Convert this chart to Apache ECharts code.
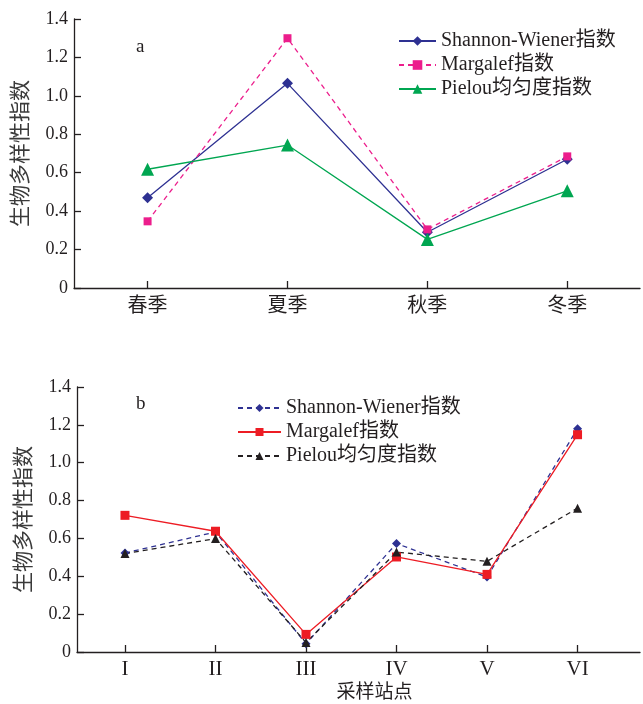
<!DOCTYPE html>
<html>
<head>
<meta charset="utf-8">
<script src="https://cdn.jsdelivr.net/npm/echarts@6/dist/echarts.min.js"></script>
<style>
  html, body { margin: 0; padding: 0; background: #fff; }
  #main { width: 643px; height: 704px; }
</style>
</head>
<body>
<div id="main"></div>
<script>
// 图 a：季节
var seasons = ['春季', '夏季', '秋季', '冬季']
var seasonShannon = [0.47, 1.065, 0.29, 0.67]
var seasonMargalef = [0.347, 1.30, 0.305, 0.685]
var seasonPielou = [0.618, 0.744, 0.253, 0.506]

// 图 b：采样站点
var stations = ['I', 'II', 'III', 'IV', 'V', 'VI']
var siteShannon = [0.523, 0.634, 0.044, 0.573, 0.396, 1.18]
var siteMargalef = [0.722, 0.638, 0.093, 0.502, 0.41, 1.148]
var sitePielou = [0.52, 0.599, 0.05, 0.528, 0.479, 0.76]

var yTicks = [0, 0.2, 0.4, 0.6, 0.8, 1.0, 1.2, 1.4]

var nameA = ['Shannon-Wiener指数', 'Margalef指数', 'Pielou均匀度指数']
var nameB = ['Shannon-Wiener指数', 'Margalef指数', 'Pielou均匀度指数']

var serif = 'Liberation Serif, "Noto Sans CJK SC"'
var ink = '#231f20'

function pairs(arr) {
  return arr.map(function (v, i) { return [i, v] })
}
function idx(arr) {
  return arr.map(function (v, i) { return i })
}

function xAxisFor(grid, cats, min, max) {
  return {
    type: 'value', gridIndex: grid, min: min, max: max,
    splitLine: { show: false },
    axisLine: { show: true, onZero: false, lineStyle: { color: ink, width: 1.3 } },
    axisTick: { show: true, inside: true, length: 7, customValues: idx(cats), lineStyle: { color: ink, width: 1.3 } },
    axisLabel: {
      customValues: idx(cats), margin: grid === 0 ? 6 : 7,
      fontFamily: grid === 0 ? '"Noto Sans CJK SC"' : serif,
      fontSize: grid === 0 ? 20 : 21, color: ink,
      formatter: function (v) { return cats[Math.round(v)] }
    }
  }
}

function yAxisFor(grid) {
  return {
    type: 'value', gridIndex: grid, min: 0, max: 1.4, interval: 0.2,
    name: '生物多样性指数', nameLocation: 'middle', nameGap: 44, nameRotate: 90,
    nameTextStyle: { fontFamily: '"Noto Sans CJK SC"', fontSize: 21, color: '#3a3a3a' },
    splitLine: { show: false },
    axisLine: { show: true, onZero: false, lineStyle: { color: ink, width: 1.3 } },
    axisTick: { show: true, inside: true, length: 7, lineStyle: { color: ink, width: 1.3 } },
    axisLabel: {
      margin: 6, fontFamily: serif, fontSize: 18, color: ink,
      formatter: function (v) {
        var t = yTicks.indexOf(Math.round(v * 10) / 10)
        return t === 0 ? '0' : v.toFixed(1)
      }
    }
  }
}

const myCharts = echarts.init(document.getElementById('main'))
const option = {
  animation: false,
  backgroundColor: '#fff',
  title: [
    { text: 'a', left: 131, top: 33, textStyle: { fontFamily: serif, fontSize: 19, fontWeight: 'normal', color: ink } },
    { text: 'b', left: 131, top: 390, textStyle: { fontFamily: serif, fontSize: 19, fontWeight: 'normal', color: ink } }
  ],
  grid: [
    { left: 74, top: 19, height: 269, right: 3, outerBoundsMode: 'none' },
    { left: 77, top: 387, height: 265, right: 3, outerBoundsMode: 'none' }
  ],
  legend: [
    {
      data: nameA.map(function (n) { return { name: n } }),
      orient: 'vertical', left: 393, top: 26, itemWidth: 37, itemHeight: 12, itemGap: 4,
      textStyle: { fontFamily: serif, fontSize: 20, color: ink }
    },
    {
      data: nameB.map(function (n) { return { name: n + ' ' } }),
      orient: 'vertical', left: 232, top: 393, itemWidth: 43, itemHeight: 10, itemGap: 4,
      textStyle: { fontFamily: serif, fontSize: 20, color: ink }
    }
  ],
  xAxis: [
    xAxisFor(0, seasons, -0.526, 3.52),
    Object.assign(xAxisFor(1, stations, -0.53, 5.69), {
      name: '采样站点', nameLocation: 'middle', nameGap: 29,
      nameTextStyle: { fontFamily: '"Noto Sans CJK SC"', fontSize: 19, color: ink, padding: [0, 0, 0, 32] }
    })
  ],
  yAxis: [yAxisFor(0), yAxisFor(1)],
  series: [
    {
      name: nameA[0], type: 'line', xAxisIndex: 0, yAxisIndex: 0, data: pairs(seasonShannon),
      symbol: 'diamond', symbolSize: 11,
      lineStyle: { color: '#2e3192', width: 1.3 }, itemStyle: { color: '#2e3192' }
    },
    {
      name: nameA[1], type: 'line', xAxisIndex: 0, yAxisIndex: 0, data: pairs(seasonMargalef),
      symbol: 'rect', symbolSize: 8,
      lineStyle: { color: '#ec1e8c', width: 1.3, type: [5, 4] }, itemStyle: { color: '#ec1e8c' }
    },
    {
      name: nameA[2], type: 'line', xAxisIndex: 0, yAxisIndex: 0, data: pairs(seasonPielou),
      symbol: 'triangle', symbolSize: 13,
      lineStyle: { color: '#00a651', width: 1.3 }, itemStyle: { color: '#00a651' }
    },
    {
      name: nameB[0] + ' ', type: 'line', xAxisIndex: 1, yAxisIndex: 1, data: pairs(siteShannon),
      symbol: 'diamond', symbolSize: 9,
      lineStyle: { color: '#2e3192', width: 1.3, type: [5, 4] }, itemStyle: { color: '#2e3192' }
    },
    {
      name: nameB[1] + ' ', type: 'line', xAxisIndex: 1, yAxisIndex: 1, data: pairs(siteMargalef),
      symbol: 'rect', symbolSize: 9,
      lineStyle: { color: '#ed1c24', width: 1.3 }, itemStyle: { color: '#ed1c24' }
    },
    {
      name: nameB[2] + ' ', type: 'line', xAxisIndex: 1, yAxisIndex: 1, data: pairs(sitePielou),
      symbol: 'triangle', symbolSize: 9,
      lineStyle: { color: ink, width: 1.3, type: [5, 4] }, itemStyle: { color: ink }
    }
  ]
}
myCharts.setOption(option)
</script>
</body>
</html>
